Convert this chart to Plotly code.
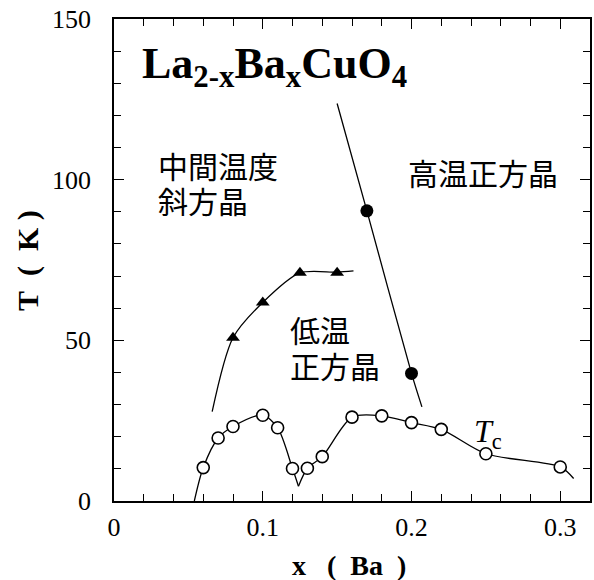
import plotly.graph_objects as go

# ---- data ----
# Tc (open circles)
tc_x = [0.06, 0.07, 0.08, 0.10, 0.11, 0.12, 0.13, 0.14, 0.16, 0.18, 0.20, 0.22, 0.25, 0.30]
tc_y = [10.4, 19.6, 23.2, 26.7, 22.8, 10.1, 10.2, 13.8, 26.1, 26.5, 24.4, 22.3, 14.7, 10.6]
# Tc guide curve (two branches meeting at the dip near x=1/8)
tc_curve_left_x = [0.054, 0.06, 0.07, 0.08, 0.10, 0.11, 0.12, 0.124]
tc_curve_left_y = [0.0, 10.4, 19.6, 23.2, 26.7, 22.8, 10.1, 4.6]
tc_curve_right_x = [0.124, 0.13, 0.14, 0.16, 0.18, 0.20, 0.22, 0.25, 0.30, 0.309]
tc_curve_right_y = [4.6, 10.2, 13.8, 26.1, 26.5, 24.4, 22.3, 14.7, 10.6, 7.0]

# LTO / LTT transition (filled triangles)
tri_x = [0.08, 0.10, 0.125, 0.15]
tri_y = [50.8, 61.8, 71.0, 71.0]
tri_curve_x = [0.066, 0.08, 0.10, 0.125, 0.15, 0.161]
tri_curve_y = [27.8, 50.8, 61.8, 71.0, 71.2, 71.6]

# HTT / LTO transition (filled circles)
htt_x = [0.17, 0.20]
htt_y = [90.3, 39.7]
htt_curve_x = [0.150, 0.17, 0.20, 0.207]
htt_curve_y = [123.7, 90.3, 39.7, 29.3]

x_tick_vals = [0, 0.1, 0.2, 0.3]
x_tick_text = ["0", "0.1", "0.2", "0.3"]
y_tick_vals = [0, 50, 100, 150]
y_tick_text = ["0", "50", "100", "150"]

SERIF = "Liberation Serif"
CJK = "Noto Sans CJK JP"
NB = "\u00a0"

fig = go.Figure()

line_style = dict(color="black", width=1.3, shape="spline", smoothing=0.8)
fig.add_trace(go.Scatter(x=tc_curve_left_x, y=tc_curve_left_y, mode="lines", line=line_style, hoverinfo="skip"))
fig.add_trace(go.Scatter(x=tc_curve_right_x, y=tc_curve_right_y, mode="lines", line=line_style, hoverinfo="skip"))
fig.add_trace(go.Scatter(x=tri_curve_x, y=tri_curve_y, mode="lines", line=line_style, hoverinfo="skip"))
fig.add_trace(go.Scatter(x=htt_curve_x, y=htt_curve_y, mode="lines", line=line_style, hoverinfo="skip"))

fig.add_trace(go.Scatter(x=tc_x, y=tc_y, mode="markers",
                         marker=dict(symbol="circle", size=12, color="white",
                                     line=dict(color="black", width=1.6))))
fig.add_trace(go.Scatter(x=tri_x, y=tri_y, mode="markers",
                         marker=dict(symbol="triangle-up", size=12, color="black",
                                     line=dict(width=0))))
fig.add_trace(go.Scatter(x=htt_x, y=htt_y, mode="markers",
                         marker=dict(symbol="circle", size=13, color="black",
                                     line=dict(width=0))))

axis_common = dict(
    showline=True, linecolor="black", linewidth=1.6, mirror="ticks",
    ticks="inside", ticklen=10, tickwidth=1.3, tickcolor="black",
    showgrid=False, zeroline=False,
    tickfont=dict(family=SERIF, size=26, color="black"),
)

fig.update_xaxes(range=[0, 0.32], tickmode="array", tickvals=x_tick_vals, ticktext=x_tick_text,
                 ticklabelstandoff=2,
                 minor=dict(dtick=0.02, tick0=0, ticks="inside", ticklen=7, tickwidth=1.2,
                            tickcolor="black", showgrid=False),
                 **axis_common)
fig.update_yaxes(range=[0, 150], tickmode="array", tickvals=y_tick_vals, ticktext=y_tick_text,
                 ticklabelstandoff=16,
                 minor=dict(dtick=10, tick0=0, ticks="inside", ticklen=7, tickwidth=1.2,
                            tickcolor="black", showgrid=False),
                 **axis_common)

cjk_font = dict(family=CJK, size=30, color="black")
annotations = [
    dict(x=0.0553, y=0.901, text="La<sub>2-x</sub>Ba<sub>x</sub>CuO<sub>4</sub>",
         font=dict(family=SERIF, size=44, color="black", weight="bold"),
         xanchor="left", yanchor="middle"),
    dict(x=0.088, y=0.697, text="中間温度", font=cjk_font, xanchor="left", yanchor="middle"),
    dict(x=0.088, y=0.624, text="斜方晶", font=cjk_font, xanchor="left", yanchor="middle"),
    dict(x=0.613, y=0.682, text="高温正方晶", font=cjk_font, xanchor="left", yanchor="middle"),
    dict(x=0.366, y=0.357, text="低温", font=cjk_font, xanchor="left", yanchor="middle"),
    dict(x=0.366, y=0.282, text="正方晶", font=cjk_font, xanchor="left", yanchor="middle"),
    dict(x=0.752, y=0.140, text="<i>T</i><sub>c</sub>",
         font=dict(family=SERIF, size=32, color="black"),
         xanchor="left", yanchor="middle"),
    dict(x=-0.1807, y=0.5, text="T" + NB * 2 + "(" + NB * 2 + "K" + NB + ")", textangle=-90,
         font=dict(family=SERIF, size=30, color="black", weight="bold"),
         xanchor="center", yanchor="middle"),
    dict(x=0.4935, y=-0.134, text="x" + NB * 3 + "(" + NB * 2 + "Ba" + NB * 2 + ")",
         font=dict(family=SERIF, size=28, color="black", weight="bold"),
         xanchor="center", yanchor="middle"),
]
for a in annotations:
    a.update(xref="paper", yref="paper", showarrow=False)

fig.update_layout(
    width=594, height=580,
    margin=dict(l=114, r=2, t=19, b=79),
    paper_bgcolor="white", plot_bgcolor="white",
    showlegend=False,
    annotations=annotations,
)

fig.write_html("out.html", config={"displayModeBar": False},
               post_script="document.body.style.margin='0px';")
